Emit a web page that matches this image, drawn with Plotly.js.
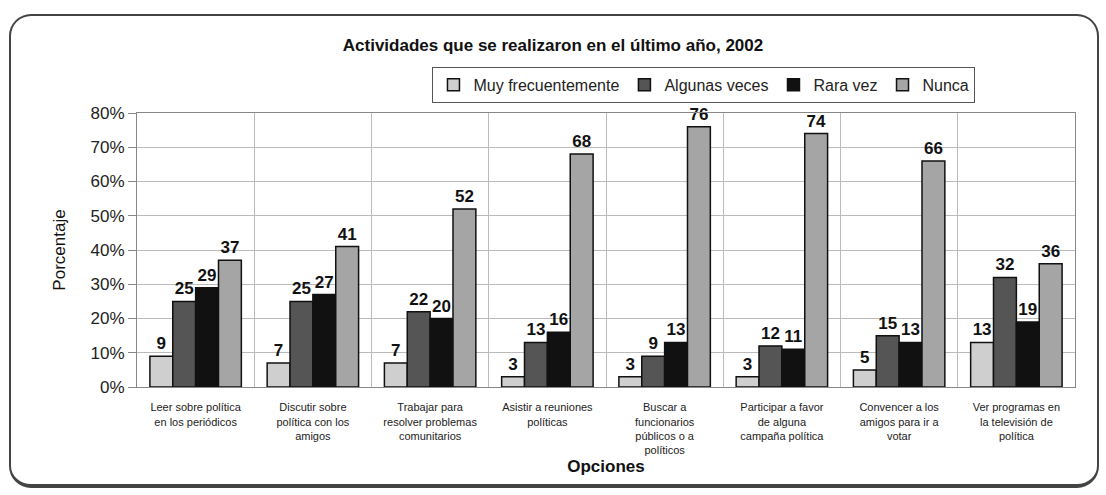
<!DOCTYPE html>
<html>
<head>
<meta charset="utf-8">
<script src="https://cdn.plot.ly/plotly-3.0.1.min.js"></script>
<style>
html,body{margin:0;padding:0;background:#fff;}
#frame{position:absolute;left:9px;top:14px;width:1090px;height:474px;border-style:solid;border-color:#444;border-width:2px 2px 4px 2px;border-radius:22px;box-sizing:border-box;}
#chart{position:absolute;left:0;top:0;width:1106px;height:495px;}
</style>
</head>
<body>
<div id="frame"></div>
<div id="chart"></div>
<script>
const categories = [
  "Leer sobre política<br>en los periódicos",
  "Discutir sobre<br>política con los<br>amigos",
  "Trabajar para<br>resolver problemas<br>comunitarios",
  "Asistir a reuniones<br>políticas",
  "Buscar a<br>funcionarios<br>públicos o a<br>políticos",
  "Participar a favor<br>de alguna<br>campaña política",
  "Convencer a los<br>amigos para ir a<br>votar",
  "Ver programas en<br>la televisión de<br>política"
];
const seriesNames = ["Muy frecuentemente", "Algunas veces", "Rara vez", "Nunca"];
const muyFrecuentemente = [9, 7, 7, 3, 3, 3, 5, 13];
const algunasVeces = [25, 25, 22, 13, 9, 12, 15, 32];
const raraVez = [29, 27, 20, 16, 13, 11, 13, 19];
const nunca = [37, 41, 52, 68, 76, 74, 66, 36];
const yTicks = [0, 10, 20, 30, 40, 50, 60, 70, 80];

const seriesValues = [muyFrecuentemente, algunasVeces, raraVez, nunca];
const colors = ["#cfcfcf", "#555555", "#111111", "#a5a5a5"];

const traces = seriesValues.map((vals, i) => ({
  type: "bar",
  name: seriesNames[i],
  x: categories,
  y: vals,
  text: vals.map(String),
  textposition: "outside",
  cliponaxis: false,
  textfont: {family: "Liberation Sans, Arial, sans-serif", size: 17, color: "#111", weight: "bold"},
  marker: {color: colors[i], line: {color: "#111", width: 1.5}}
}));

const layout = {
  width: 1106, height: 495,
  paper_bgcolor: "rgba(0,0,0,0)",
  plot_bgcolor: "#fff",
  margin: {l: 137, r: 31, t: 113, b: 108},
  barmode: "group",
  bargap: 0.22,
  bargroupgap: 0,
  font: {family: "Liberation Sans, Arial, sans-serif", color: "#222"},
  title: {
    text: "<b>Actividades que se realizaron en el último año, 2002</b>",
    x: 0.5, xanchor: "center", y: 0.91, yanchor: "middle",
    font: {size: 17, color: "#111"}
  },
  legend: {
    orientation: "h",
    x: 0.315, xanchor: "left", y: 1.168, yanchor: "top",
    bordercolor: "#555", borderwidth: 1, bgcolor: "#fff",
    font: {family: "Liberation Sans, Arial, sans-serif", size: 16, color: "#222"},
    itemwidth: 30, tracegroupgap: 0
  },
  xaxis: {
    type: "category",
    tickson: "boundaries",
    showgrid: true, gridcolor: "#bbb", gridwidth: 1,
    ticks: "",
    ticklabelstandoff: 10,
    tickfont: {size: 11, color: "#222"},
    showline: true, linecolor: "#888", mirror: true,
    title: {text: "<b>Opciones</b>", font: {size: 17, color: "#111"}, standoff: 5}
  },
  yaxis: {
    range: [0, 80],
    tickvals: yTicks,
    ticktext: yTicks.map(v => v + "%"),
    showgrid: true, gridcolor: "#bbb",
    tickfont: {size: 17, color: "#222"},
    ticks: "outside", ticklen: 8, tickcolor: "#888",
    showline: true, linecolor: "#888", mirror: true,
    zeroline: false,
    title: {text: "Porcentaje", font: {size: 17, color: "#111"}, standoff: 20}
  },
  showlegend: true
};

Plotly.newPlot("chart", traces, layout, {displayModeBar: false, staticPlot: true});
</script>
</body>
</html>
